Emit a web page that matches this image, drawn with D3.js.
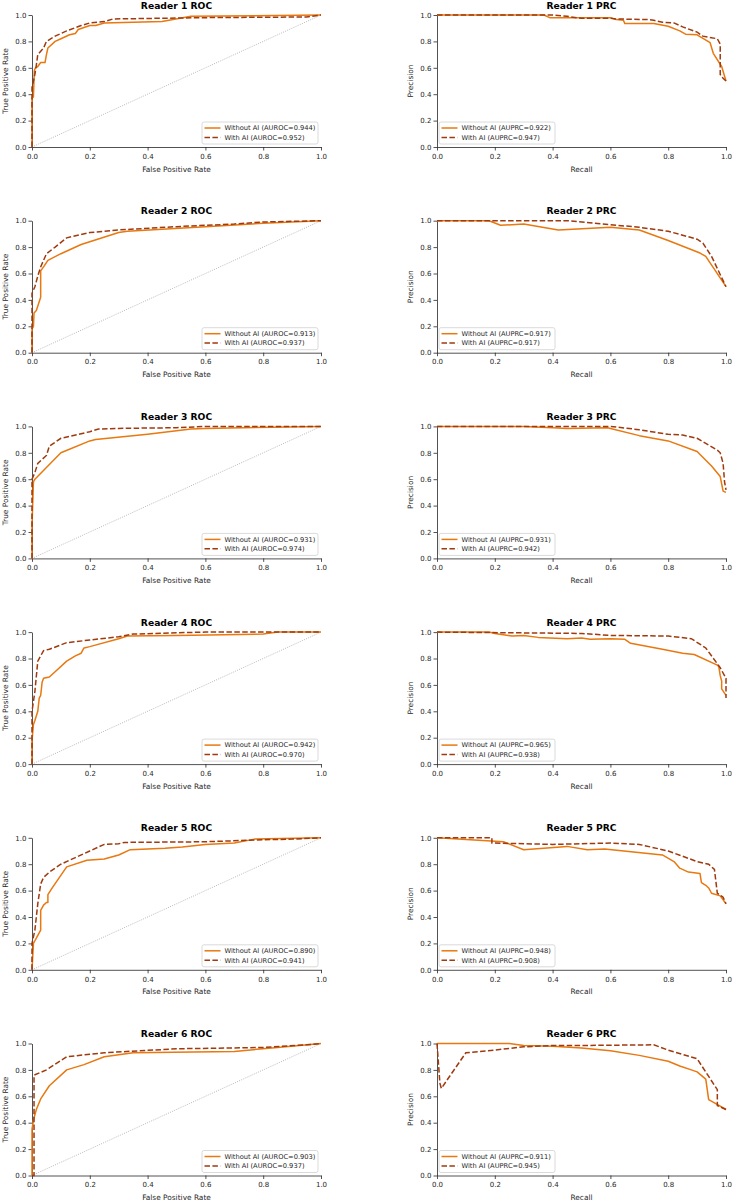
<!DOCTYPE html>
<html>
<head>
<meta charset="utf-8">
<script src="https://cdn.jsdelivr.net/npm/d3@7"></script>
<style>
  body { margin: 0; background: #fff; }
  svg { font-family: "DejaVu Sans", sans-serif; }
</style>
</head>
<body>
<svg id="chart" width="733" height="1202"></svg>
<script>
// tick labels
const ticks = [0, 0.2, 0.4, 0.6, 0.8, 1.0];

// AUC values read from the legends
const aurocWithout = [0.944, 0.913, 0.931, 0.942, 0.890, 0.903];
const aurocWith = [0.952, 0.937, 0.974, 0.970, 0.941, 0.937];
const auprcWithout = [0.922, 0.917, 0.931, 0.965, 0.948, 0.911];
const auprcWith = [0.947, 0.917, 0.942, 0.938, 0.908, 0.945];

// ROC curves [fpr, tpr]
const roc1Without = [[0,0],[0,0.37],[0.005,0.38],[0.008,0.58],[0.012,0.6],[0.02,0.61],[0.03,0.64],[0.045,0.64],[0.05,0.7],[0.055,0.75],[0.08,0.8],[0.1,0.82],[0.13,0.85],[0.15,0.86],[0.16,0.89],[0.2,0.92],[0.22,0.92],[0.25,0.94],[0.45,0.95],[0.55,0.99],[1,1]];
const roc1With = [[0,0],[0,0.45],[0.01,0.55],[0.015,0.62],[0.02,0.7],[0.04,0.75],[0.05,0.8],[0.08,0.84],[0.12,0.88],[0.17,0.92],[0.2,0.94],[0.25,0.95],[0.28,0.97],[0.6,0.98],[0.95,0.985],[1,1]];
const roc2Without = [[0,0],[0,0.18],[0.005,0.2],[0.007,0.3],[0.015,0.32],[0.03,0.42],[0.03,0.62],[0.04,0.65],[0.055,0.7],[0.1,0.75],[0.17,0.82],[0.3,0.91],[0.33,0.92],[0.6,0.955],[0.8,0.98],[1,1]];
const roc2With = [[0,0],[0,0.45],[0.01,0.5],[0.02,0.58],[0.03,0.65],[0.05,0.75],[0.08,0.8],[0.12,0.87],[0.2,0.91],[0.3,0.93],[0.5,0.955],[0.7,0.975],[0.8,0.99],[1,1]];
const roc3Without = [[0,0],[0,0.25],[0.005,0.58],[0.01,0.6],[0.1,0.8],[0.2,0.89],[0.22,0.9],[0.4,0.94],[0.55,0.98],[0.6,0.985],[1,1]];
const roc3With = [[0,0],[0,0.6],[0.01,0.65],[0.02,0.72],[0.05,0.78],[0.06,0.85],[0.1,0.91],[0.2,0.96],[0.23,0.98],[0.3,0.985],[0.5,0.99],[0.6,1],[1,1]];
const roc4Without = [[0,0],[0,0.18],[0.005,0.3],[0.01,0.33],[0.02,0.4],[0.025,0.5],[0.03,0.52],[0.035,0.62],[0.04,0.65],[0.06,0.66],[0.08,0.7],[0.12,0.78],[0.15,0.82],[0.17,0.84],[0.18,0.88],[0.2,0.89],[0.3,0.95],[0.33,0.97],[0.5,0.975],[0.8,0.985],[0.85,1],[1,1]];
const roc4With = [[0,0],[0,0.4],[0.01,0.55],[0.02,0.78],[0.04,0.86],[0.06,0.87],[0.12,0.92],[0.2,0.94],[0.3,0.965],[0.35,0.985],[0.5,0.995],[0.6,1],[1,1]];
const roc5Without = [[0,0],[0.005,0.2],[0.01,0.22],[0.015,0.24],[0.03,0.3],[0.03,0.45],[0.04,0.49],[0.05,0.51],[0.055,0.51],[0.055,0.57],[0.07,0.62],[0.12,0.78],[0.19,0.83],[0.25,0.84],[0.3,0.87],[0.34,0.91],[0.46,0.92],[0.52,0.93],[0.6,0.95],[0.7,0.96],[0.77,0.99],[1,1]];
const roc5With = [[0,0],[0,0.2],[0.01,0.3],[0.02,0.5],[0.03,0.65],[0.04,0.7],[0.06,0.74],[0.1,0.8],[0.15,0.85],[0.2,0.9],[0.25,0.95],[0.3,0.955],[0.32,0.965],[0.6,0.97],[0.8,0.985],[0.9,0.99],[1,1]];
const roc6Without = [[0,0],[0,0.35],[0.005,0.42],[0.015,0.5],[0.03,0.58],[0.06,0.68],[0.12,0.8],[0.18,0.84],[0.25,0.9],[0.35,0.93],[0.7,0.94],[0.85,0.97],[1,1]];
const roc6With = [[0,0],[0.007,0],[0.007,0.76],[0.05,0.8],[0.12,0.9],[0.25,0.93],[0.5,0.96],[0.8,0.97],[0.95,0.99],[1,1]];

// PR curves [recall, precision]
const prc1Without = [[0,1],[0.37,1],[0.39,0.98],[0.6,0.98],[0.62,0.965],[0.645,0.96],[0.65,0.935],[0.75,0.935],[0.8,0.915],[0.84,0.88],[0.86,0.855],[0.9,0.85],[0.945,0.79],[0.956,0.71],[0.985,0.61],[1,0.5]];
const prc1With = [[0,1],[0.4,1],[0.45,0.99],[0.5,0.975],[0.6,0.975],[0.62,0.97],[0.73,0.965],[0.75,0.96],[0.78,0.945],[0.82,0.94],[0.85,0.91],[0.9,0.87],[0.92,0.84],[0.97,0.82],[0.98,0.78],[0.98,0.55],[0.99,0.52],[1,0.5]];
const prc2Without = [[0,1],[0.18,1],[0.22,0.965],[0.3,0.975],[0.42,0.93],[0.6,0.95],[0.7,0.93],[0.8,0.85],[0.91,0.755],[0.93,0.73],[1,0.5]];
const prc2With = [[0,1],[0.45,1],[0.6,0.97],[0.7,0.95],[0.8,0.92],[0.9,0.86],[0.92,0.83],[0.95,0.73],[1,0.5]];
const prc3Without = [[0,1],[0.3,1],[0.4,0.99],[0.45,0.985],[0.59,0.99],[0.7,0.93],[0.8,0.89],[0.9,0.81],[0.95,0.7],[0.98,0.62],[0.99,0.51],[1,0.5]];
const prc3With = [[0,1],[0.6,1],[0.7,0.975],[0.8,0.94],[0.85,0.935],[0.9,0.91],[0.97,0.82],[0.98,0.8],[0.99,0.72],[0.995,0.58],[1,0.52]];
const prc4Without = [[0,1],[0.18,1],[0.2,0.99],[0.26,0.97],[0.3,0.975],[0.35,0.96],[0.45,0.95],[0.5,0.955],[0.53,0.945],[0.6,0.95],[0.65,0.945],[0.67,0.915],[0.78,0.87],[0.85,0.84],[0.89,0.83],[0.97,0.75],[0.975,0.74],[0.98,0.67],[0.985,0.63],[0.985,0.57],[1,0.52]];
const prc4With = [[0,1],[0.5,0.99],[0.6,0.975],[0.8,0.97],[0.88,0.95],[0.93,0.88],[0.97,0.76],[0.98,0.73],[1,0.65],[1,0.5]];
const prc5Without = [[0,1],[0.23,0.97],[0.3,0.91],[0.45,0.935],[0.52,0.91],[0.58,0.915],[0.78,0.87],[0.82,0.82],[0.84,0.77],[0.87,0.74],[0.91,0.73],[0.915,0.66],[0.93,0.64],[0.94,0.62],[0.95,0.58],[0.98,0.56],[1,0.5]];
const prc5With = [[0,1],[0.19,1],[0.19,0.96],[0.2,0.96],[0.4,0.95],[0.6,0.96],[0.7,0.95],[0.8,0.9],[0.9,0.82],[0.94,0.8],[0.96,0.76],[0.97,0.58],[0.99,0.55],[1,0.5]];
const prc6Without = [[0,1],[0.25,1],[0.3,0.985],[0.4,0.98],[0.5,0.965],[0.6,0.945],[0.7,0.91],[0.8,0.865],[0.84,0.83],[0.88,0.8],[0.9,0.785],[0.93,0.73],[0.94,0.575],[0.96,0.55],[1,0.5]];
const prc6With = [[0,1],[0.01,0.7],[0.015,0.66],[0.1,0.93],[0.2,0.95],[0.3,0.975],[0.4,0.985],[0.5,0.985],[0.75,0.99],[0.8,0.95],[0.9,0.885],[0.97,0.65],[0.97,0.53],[1,0.5]];

const rocWithout = [roc1Without, roc2Without, roc3Without, roc4Without, roc5Without, roc6Without];
const rocWith = [roc1With, roc2With, roc3With, roc4With, roc5With, roc6With];
const prcWithout = [prc1Without, prc2Without, prc3Without, prc4Without, prc5Without, prc6Without];
const prcWith = [prc1With, prc2With, prc3With, prc4With, prc5With, prc6With];

const colWithout = "#e8780f";
const colWith = "#9e3a0e";
const textCol = "#262626";

const svg = d3.select("#chart");
const plotH = 132;
const rowStep = 205.7;
const firstTop = 15;

function panel(left, top, opts) {
  const x = d3.scaleLinear().domain([0, 1]).range([left, left + 289]);
  const y = d3.scaleLinear().domain([0, 1]).range([top + plotH, top]);
  const g = svg.append("g");

  // axes
  const xa = g.append("g")
    .attr("transform", "translate(0," + (top + plotH) + ")")
    .call(d3.axisBottom(x).tickValues(ticks).tickFormat(d3.format(".1f")).tickSize(3.5).tickSizeOuter(0));
  const ya = g.append("g")
    .attr("transform", "translate(" + left + ",0)")
    .call(d3.axisLeft(y).tickValues(ticks).tickFormat(d3.format(".1f")).tickSize(3.5).tickSizeOuter(0));
  [xa, ya].forEach(a => {
    a.select(".domain").attr("stroke", textCol).attr("stroke-width", 0.8);
    a.selectAll(".tick line").attr("stroke", textCol).attr("stroke-width", 0.8);
    a.selectAll(".tick text").attr("fill", textCol).attr("font-size", 7)
      .attr("font-family", "DejaVu Sans");
  });
  xa.selectAll(".tick text").attr("dy", "0.75em").attr("y", 6.5);
  ya.selectAll(".tick text").attr("x", -5.5);

  // title + axis labels
  g.append("text").attr("x", left + 144.5).attr("y", top - 6.5)
    .attr("text-anchor", "middle").attr("font-size", 9.2).attr("font-weight", "bold")
    .attr("fill", "#000").text(opts.title);
  g.append("text").attr("x", left + 144.5).attr("y", top + plotH + 24.5)
    .attr("text-anchor", "middle").attr("font-size", 7.4).attr("fill", textCol).text(opts.xlabel);
  g.append("text")
    .attr("transform", "translate(" + (left + opts.ylabelOff) + "," + (top + plotH / 2) + ") rotate(-90)")
    .attr("dy", "0.35em")
    .attr("text-anchor", "middle").attr("font-size", 7.4).attr("fill", textCol).text(opts.ylabel);

  // chance diagonal
  if (opts.diag) {
    g.append("line")
      .attr("x1", x(0)).attr("y1", y(0)).attr("x2", x(1)).attr("y2", y(1))
      .attr("stroke", "#9a9a9a").attr("stroke-width", 0.7).attr("stroke-dasharray", "1,1.3");
  }

  const line = d3.line().x(d => x(d[0])).y(d => y(d[1]));
  g.append("path").datum(opts.without).attr("d", line)
    .attr("fill", "none").attr("stroke", colWithout).attr("stroke-width", 1.5)
    .attr("stroke-linejoin", "round");
  g.append("path").datum(opts.with).attr("d", line)
    .attr("fill", "none").attr("stroke", colWith).attr("stroke-width", 1.5)
    .attr("stroke-dasharray", "5.5,2.4");

  // legend
  const lw = 116, lh = 22;
  const lx = opts.legendRight ? left + 289 - 3 - lw : left + 2;
  const ly = top + plotH - 3 - lh;
  const lg = g.append("g").attr("transform", "translate(" + lx + "," + ly + ")");
  lg.append("rect").attr("width", lw).attr("height", lh).attr("rx", 2)
    .attr("fill", "#fff").attr("fill-opacity", 0.85)
    .attr("stroke", "#d0d0d0").attr("stroke-width", 0.8);
  const entries = [
    { label: "Without AI (" + opts.metric + "=" + opts.aucWithout.toFixed(3) + ")", col: colWithout, dash: null },
    { label: "With AI (" + opts.metric + "=" + opts.aucWith.toFixed(3) + ")", col: colWith, dash: "5.5,2.4" }
  ];
  entries.forEach((e, i) => {
    const yy = 6 + i * 9.4;
    lg.append("line").attr("x1", 2.5).attr("x2", 18.5).attr("y1", yy).attr("y2", yy)
      .attr("stroke", e.col).attr("stroke-width", 1.5).attr("stroke-dasharray", e.dash);
    lg.append("text").attr("x", 22.5).attr("y", yy).attr("dy", "0.35em")
      .attr("font-size", 6.7).attr("fill", textCol).text(e.label);
  });
}

for (let i = 0; i < 6; i++) {
  const top = firstTop + i * rowStep;
  panel(32, top, {
    title: "Reader " + (i + 1) + " ROC",
    xlabel: "False Positive Rate", ylabel: "True Positive Rate", ylabelOff: -27,
    diag: true, legendRight: true, metric: "AUROC",
    without: rocWithout[i], with: rocWith[i],
    aucWithout: aurocWithout[i], aucWith: aurocWith[i]
  });
  panel(437, top, {
    title: "Reader " + (i + 1) + " PRC",
    xlabel: "Recall", ylabel: "Precision", ylabelOff: -27,
    diag: false, legendRight: false, metric: "AUPRC",
    without: prcWithout[i], with: prcWith[i],
    aucWithout: auprcWithout[i], aucWith: auprcWith[i]
  });
}
</script>
</body>
</html>
